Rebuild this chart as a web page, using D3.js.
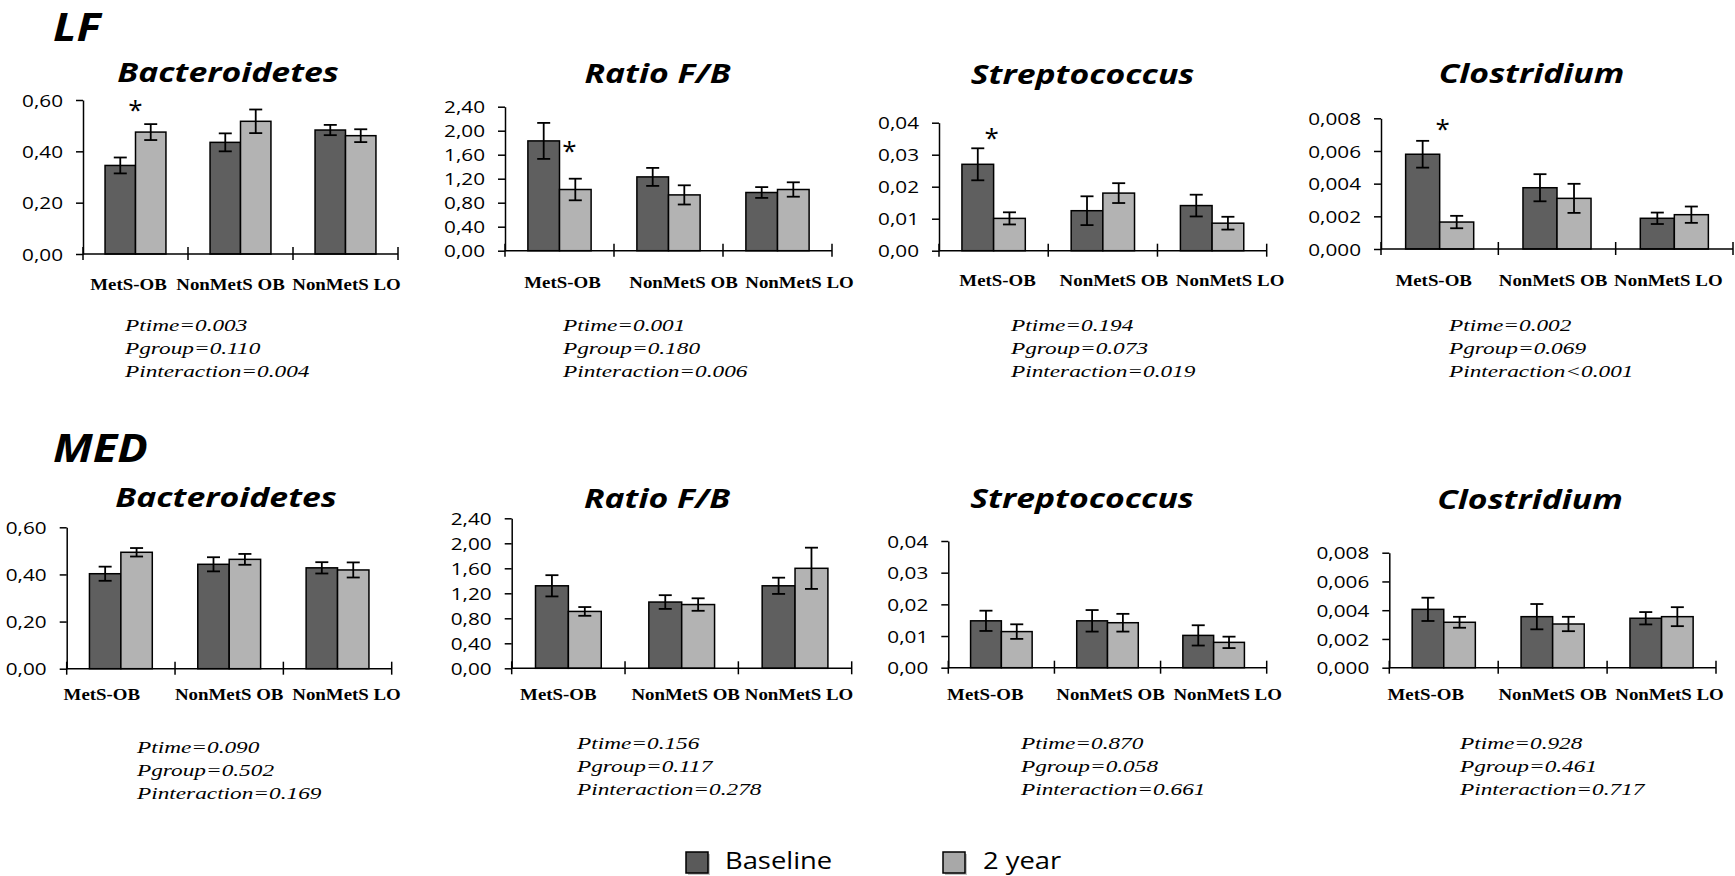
<!DOCTYPE html>
<html>
<head>
<meta charset="utf-8">
<script src="https://cdn.jsdelivr.net/npm/d3@7"></script>
<style>
  html, body { margin: 0; padding: 0; background: #fff; }
  svg { display: block; }
</style>
</head>
<body>
<script>
// ---- data -------------------------------------------------------------
const diets = ["LF", "MED"];
const taxa = ["Bacteroidetes", "Ratio F/B", "Streptococcus", "Clostridium"];
const groups = ["MetS-OB", "NonMetS OB", "NonMetS LO"];
const seriesNames = ["Baseline", "2 year"];

// y axis per taxon
const axisMax = [0.6, 2.4, 0.04, 0.008];
const axisStep = [0.2, 0.4, 0.01, 0.002];
const axisDecimals = [2, 2, 2, 3];

// LF diet: mean and SE, one row per taxon, one value per group
const lfBaseline   = [[0.345, 0.435, 0.483], [1.83, 1.23, 0.97], [0.0270, 0.0125, 0.0141], [0.00580, 0.00375, 0.00188]];
const lfBaselineSE = [[0.031, 0.035, 0.020], [0.30, 0.15, 0.09], [0.0050, 0.0045, 0.0034], [0.00082, 0.00083, 0.00035]];
const lfYear2      = [[0.475, 0.517, 0.461], [1.02, 0.93, 1.02], [0.0101, 0.0180, 0.0086], [0.00165, 0.00310, 0.00210]];
const lfYear2SE    = [[0.031, 0.046, 0.025], [0.18, 0.16, 0.12], [0.0019, 0.0031, 0.0020], [0.00038, 0.00089, 0.00050]];

// MED diet
const medBaseline   = [[0.403, 0.443, 0.428], [1.32, 1.06, 1.32], [0.0148, 0.0148, 0.0102], [0.00406, 0.00355, 0.00344]];
const medBaselineSE = [[0.030, 0.030, 0.024], [0.17, 0.11, 0.13], [0.0032, 0.0034, 0.0032], [0.00081, 0.00088, 0.00043]];
const medYear2      = [[0.494, 0.464, 0.419], [0.91, 1.02, 1.60], [0.0114, 0.0142, 0.0080], [0.00316, 0.00304, 0.00355]];
const medYear2SE    = [[0.018, 0.023, 0.032], [0.07, 0.10, 0.33], [0.0023, 0.0028, 0.0018], [0.00038, 0.00050, 0.00066]];

// significance marks (height of the asterisk over MetS-OB), LF only
const lfStars = [0.584, 1.76, 0.0372, 0.0077];

// repeated-measures p values
const lfPValues = [
  ["Ptime=0.003", "Pgroup=0.110", "Pinteraction=0.004"],
  ["Ptime=0.001", "Pgroup=0.180", "Pinteraction=0.006"],
  ["Ptime=0.194", "Pgroup=0.073", "Pinteraction=0.019"],
  ["Ptime=0.002", "Pgroup=0.069", "Pinteraction<0.001"]
];
const medPValues = [
  ["Ptime=0.090", "Pgroup=0.502", "Pinteraction=0.169"],
  ["Ptime=0.156", "Pgroup=0.117", "Pinteraction=0.278"],
  ["Ptime=0.870", "Pgroup=0.058", "Pinteraction=0.661"],
  ["Ptime=0.928", "Pgroup=0.461", "Pinteraction=0.717"]
];

const dietData = {
  LF:  { base: lfBaseline,  baseSE: lfBaselineSE,  y2: lfYear2,  y2SE: lfYear2SE,  p: lfPValues,  stars: lfStars },
  MED: { base: medBaseline, baseSE: medBaselineSE, y2: medYear2, y2SE: medYear2SE, p: medPValues, stars: null }
};

// ---- layout -----------------------------------------------------------
const W = 1735, H = 876;
const headings = [{ x: 53, y: 41 }, { x: 53, y: 462 }];
// plot frame of each panel: axis x range, top tick y, zero y, title, labels, p-value block
const frames = [
  { x0: 83,    x1: 398,    yT: 100,   yB: 254,   tx: 228,    ty: 82,  ly: 290,   px: 125,  py: 331, shift: [-7, -10, 1],  starDx: 0 },
  { x0: 505,   x1: 832,    yT: 106.7, yB: 250.7, tx: 657.5,  ty: 83,  ly: 287.5, px: 563,  py: 331, shift: [3, 15, 22],   starDx: 10 },
  { x0: 939,   x1: 1266.7, yT: 122.7, yB: 250.7, tx: 1082.5, ty: 84,  ly: 285.5, px: 1011, py: 331, shift: [4, 11, 18],   starDx: -2 },
  { x0: 1381,  x1: 1733,   yT: 118.3, yB: 249,   tx: 1531.5, ty: 83,  ly: 285.5, px: 1449, py: 331, shift: [-6, -4, -6],  starDx: 3 },
  { x0: 66.7,  x1: 391.7,  yT: 527.3, yB: 668.7, tx: 226,    ty: 507, ly: 700,   px: 137,  py: 753, shift: [-19, 0, 9],   starDx: 0 },
  { x0: 511.7, x1: 851.7,  yT: 518.3, yB: 668.3, tx: 657,    ty: 508, ly: 700,   px: 577,  py: 749, shift: [-10, 4, 4],   starDx: 0 },
  { x0: 948.3, x1: 1266.7, yT: 541,   yB: 667.7, tx: 1082,   ty: 508, ly: 700,   px: 1021, py: 749, shift: [-16, 3, 14],  starDx: 0 },
  { x0: 1389.3,x1: 1716,   yT: 552.7, yB: 667.7, tx: 1530,   ty: 509, ly: 700,   px: 1460, py: 749, shift: [-18, 0, 8],   starDx: 0 }
];

const colors = { "Baseline": "#5f5f5f", "2 year": "#b3b3b3" };
const SANS = "'Open Sans', 'DejaVu Sans', sans-serif";
const SERIF = "'Liberation Serif', 'DejaVu Serif', serif";

const svg = d3.select("body").append("svg")
  .attr("width", W).attr("height", H)
  .attr("viewBox", `0 0 ${W} ${H}`);
svg.append("rect").attr("width", W).attr("height", H).attr("fill", "#fff");

// horizontally widened text placed at (x, y)
function wideText(parent, str, x, y, k, anchor) {
  return parent.append("text")
    .attr("transform", `translate(${x},${y}) scale(${k},1)`)
    .attr("text-anchor", anchor || "start")
    .text(str);
}

// row headings
diets.forEach((d, di) => {
  wideText(svg, d, headings[di].x, headings[di].y, 1.16, "start")
    .attr("font-family", SANS).attr("font-size", 39)
    .attr("font-weight", 700).attr("font-style", "italic").attr("fill", "#000");
});

diets.forEach((diet, di) => {
  const dd = dietData[diet];
  taxa.forEach((taxon, ti) => {
    const f = frames[di * 4 + ti];
    const g = svg.append("g").attr("class", `panel ${diet}-${ti}`);

    const x = d3.scaleBand().domain(groups).range([f.x0, f.x1]);
    const xs = d3.scaleBand().domain(seriesNames).range([0, x.bandwidth()]).paddingOuter(0.724);
    const y = d3.scaleLinear().domain([0, axisMax[ti]]).range([f.yB, f.yT]);

    const rows = groups.map((grp, gi) => ({
      grp,
      vals: [
        { s: "Baseline", v: dd.base[ti][gi], e: dd.baseSE[ti][gi] },
        { s: "2 year",   v: dd.y2[ti][gi],   e: dd.y2SE[ti][gi] }
      ]
    }));

    // title
    wideText(g, taxon, f.tx, f.ty, 1.3, "middle")
      .attr("font-family", SANS).attr("font-size", 26)
      .attr("font-weight", 700).attr("font-style", "italic").attr("fill", "#000");

    // bars
    const cat = g.selectAll("g.cat").data(rows).join("g")
      .attr("class", "cat")
      .attr("transform", r => `translate(${x(r.grp)},0)`);

    cat.selectAll("rect").data(r => r.vals).join("rect")
      .attr("x", v => xs(v.s))
      .attr("y", v => y(v.v))
      .attr("width", xs.bandwidth())
      .attr("height", v => y(0) - y(v.v))
      .attr("fill", v => colors[v.s])
      .attr("stroke", "#000").attr("stroke-width", 1.5);

    // error bars
    const cap = 6.5;
    const eb = cat.selectAll("g.err").data(r => r.vals).join("g")
      .attr("class", "err")
      .attr("transform", v => `translate(${xs(v.s) + xs.bandwidth() / 2},0)`)
      .attr("stroke", "#000").attr("stroke-width", 1.8);
    eb.append("line").attr("x1", 0).attr("x2", 0)
      .attr("y1", v => y(v.v - v.e)).attr("y2", v => y(v.v + v.e));
    eb.append("line").attr("x1", -cap).attr("x2", cap)
      .attr("y1", v => y(v.v + v.e)).attr("y2", v => y(v.v + v.e));
    eb.append("line").attr("x1", -cap).attr("x2", cap)
      .attr("y1", v => y(v.v - v.e)).attr("y2", v => y(v.v - v.e));

    // y axis
    const fmt = v => d3.format(`.${axisDecimals[ti]}f`)(v).replace(".", ",");
    const ticks = d3.range(0, Math.round(axisMax[ti] / axisStep[ti]) + 1).map(i => i * axisStep[ti]);
    const ya = g.append("g")
      .attr("transform", `translate(${f.x0},0)`)
      .call(d3.axisLeft(y).tickValues(ticks).tickFormat(fmt).tickSize(7).tickSizeOuter(0));
    ya.attr("font-family", null).attr("font-size", null);
    ya.selectAll("path, line").attr("stroke", "#000").attr("stroke-width", 1.5);
    ya.selectAll("text")
      .attr("x", 0).attr("dy", "0.36em")
      .attr("transform", "translate(-20,0) scale(1.22,1)")
      .attr("font-family", SANS).attr("font-size", 17).attr("fill", "#000");

    // x axis with tick marks between groups
    const xa = g.append("g").attr("stroke", "#000").attr("stroke-width", 1.5);
    xa.append("line").attr("x1", x.range()[0]).attr("x2", x.range()[1])
      .attr("y1", y(0)).attr("y2", y(0));
    const bounds = groups.map(grp => x(grp)).concat([x.range()[1]]);
    xa.selectAll("line.b").data(bounds).join("line").attr("class", "b")
      .attr("x1", b => b).attr("x2", b => b)
      .attr("y1", y(0) - 7).attr("y2", y(0) + 6);

    // group labels
    groups.forEach((grp, gi) => {
      wideText(g, grp, x(grp) + x.bandwidth() / 2 + f.shift[gi], f.ly, 1.18, "middle")
        .attr("font-family", SERIF).attr("font-size", 16)
        .attr("font-weight", 700).attr("fill", "#000")
        .attr("xml:space", "preserve");
    });

    // significance asterisk
    if (dd.stars) {
      const sx = x(groups[0]) + xs("2 year") + f.starDx;
      g.append("text")
        .attr("x", sx).attr("y", y(dd.stars[ti]) + 15)
        .attr("text-anchor", "middle")
        .attr("font-family", SANS).attr("font-size", 26).attr("fill", "#000")
        .text("*");
    }

    // p values
    dd.p[ti].forEach((line, li) => {
      wideText(g, line, f.px, f.py + li * 23, 1.37, "start")
        .attr("font-family", SERIF).attr("font-size", 17)
        .attr("font-style", "italic").attr("fill", "#000");
    });
  });
});

// legend
const legend = svg.append("g").attr("class", "legend");
const legendPos = [{ x: 686, tx: 725 }, { x: 943, tx: 983 }];
seriesNames.forEach((s, i) => {
  const lp = legendPos[i];
  legend.append("rect").attr("x", lp.x + 2).attr("y", 854).attr("width", 22).attr("height", 21)
    .attr("fill", "#9a9a9a").attr("opacity", 0.6);
  legend.append("rect").attr("x", lp.x).attr("y", 852).attr("width", 22).attr("height", 21)
    .attr("fill", i === 0 ? "#5a5a5a" : "#a8a8a8").attr("stroke", "#000").attr("stroke-width", 1.5);
  wideText(legend, s, lp.tx, 869, 1.14, "start")
    .attr("font-family", SANS).attr("font-size", 24).attr("fill", "#000");
});
</script>
</body>
</html>
